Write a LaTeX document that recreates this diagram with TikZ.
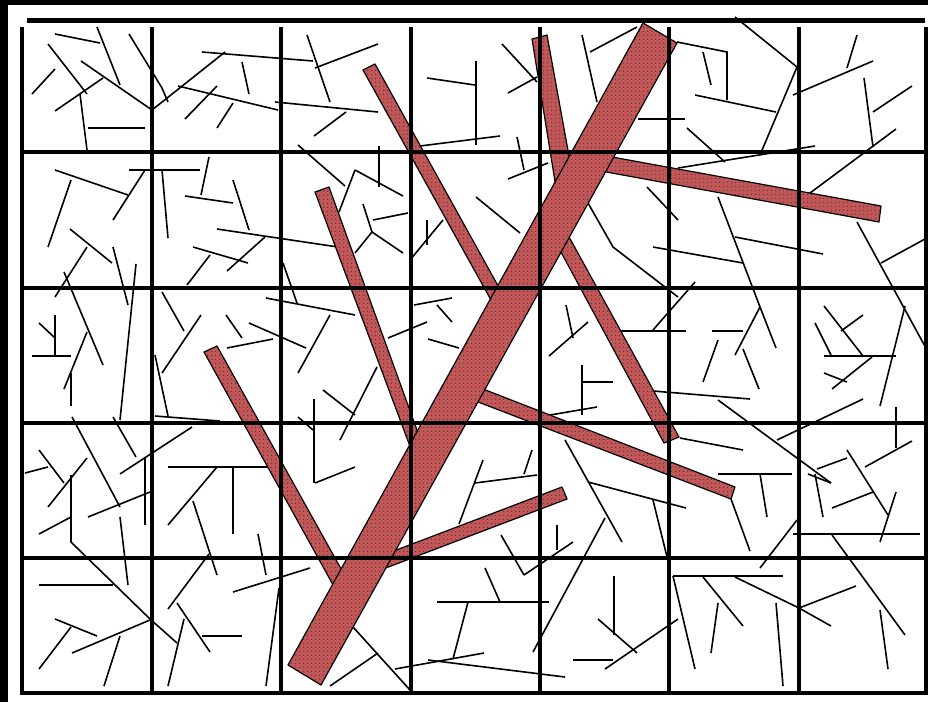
\documentclass[tikz,border=0pt]{standalone}
\usetikzlibrary{patterns.meta}
\definecolor{barkred}{RGB}{196,86,88}

\begin{document}
\begin{tikzpicture}[x=1pt,y=-1pt,
      twig/.style={line width=1.6pt},
      limb/.style={draw=black,line width=1.2pt,line join=round,fill=barkred,
        postaction={pattern={Dots[radius=0.85pt,distance=4pt]},pattern color=black!75}},
      gridline/.style={line width=4.5pt}]
      \useasboundingbox (0,0) rectangle (928,702);

      \foreach \xa/\ya/\xb/\yb in {55/34/100/43, 97/27/120/85, 48/44/87/94, 32/94/55/69,
            81/61/152/110, 152/110/225/52, 55/111/103/78, 80/94/87/150, 88/128/145/128,
            202/52/313/61, 242/62/249/94, 178/86/278/110, 275/102/378/112, 185/119/217/86,
            217/128/233/103, 129/170/200/170, 55/170/128/195, 145/170/113/220, 71/180/48/247,
            162/170/168/238, 209/157/201/195, 185/196/233/203, 233/180/249/230, 217/229/338/247,
            70/229/112/263, 298/145/345/186, 307/35/330/102, 315/68/378/44, 314/136/346/112,
            379/146/379/187, 355/170/403/196, 355/170/339/212, 363/204/372/232, 372/232/355/253,
            372/232/403/253, 373/220/408/213, 427/78/475/85, 476/61/476/145, 420/146/500/136,
            502/44/537/82, 508/93/537/77, 517/137/524/170, 508/179/548/163, 476/197/520/233,
            427/220/427/245, 410/260/443/220, 582/35/597/102, 590/52/637/27, 638/119/685/119,
            687/128/725/162, 647/187/678/220, 703/52/711/85, 695/95/776/112, 735/17/797/67,
            797/67/760/155, 793/95/873/61, 847/68/857/35, 864/78/873/147, 873/112/912/86,
            896/129/810/193, 678/168/815/146, 760/307/735/355, 857/222/927/350, 881/263/925/239,
            653/247/743/263, 735/237/823/254, 695/282/653/330, 620/331/686/331, 712/331/743/331,
            718/340/703/382, 743/349/759/389, 653/391/750/399, 718/400/831/483, 680/438/743/450,
            824/306/863/356, 841/331/863/315, 815/323/831/355, 824/356/896/356, 872/357/832/389,
            824/373/847/382, 905/306/880/406, 863/399/777/440, 896/407/896/448, 912/441/865/467,
            847/450/888/515, 817/469/847/458, 588/482/686/508, 653/500/667/557, 565/440/622/542,
            718/474/792/474, 760/474/767/517, 731/499/750/551, 797/520/760/568, 808/474/831/483,
            815/474/823/517, 832/508/873/492, 896/492/880/542, 793/534/920/534, 832/535/905/635,
            673/576/783/576, 673/576/695/669, 703/577/743/626, 718/603/711/653, 799/608/856/586,
            776/603/783/686, 880/610/888/669, 614/576/614/635, 598/619/637/653, 605/669/678/619,
            573/660/613/660, 314/399/314/483, 315/483/355/467, 395/669/484/653, 428/660/565/677,
            437/602/549/602, 468/602/453/659, 485/568/500/602, 459/524/483/460, 475/483/537/475,
            532/450/524/474, 501/535/524/575, 524/575/573/542, 557/525/557/550, 533/652/605/518,
            330/686/378/653, 353/627/410/690, 25/473/48/467, 39/450/64/483, 87/458/48/507,
            39/534/71/517, 88/517/150/492, 72/417/120/507, 120/474/192/427, 145/457/145/525,
            120/517/128/585, 39/585/113/585, 55/619/97/636, 71/627/39/669, 72/653/150/620,
            120/636/104/686, 168/467/267/467, 217/467/168/525, 233/467/233/534, 193/501/217/575,
            258/534/266/575, 209/554/168/609, 177/603/210/652, 202/636/242/636, 184/619/168/686,
            233/592/310/568, 279/588/266/686, 87/247/55/297, 113/247/128/305, 136/264/120/420,
            64/272/103/365, 39/323/55/338, 55/315/55/356, 32/356/71/356, 87/332/64/389,
            71/373/71/406, 193/247/248/263, 210/255/187/285, 265/237/227/271, 283/263/297/303,
            266/298/355/315, 162/292/184/331, 201/315/162/373, 226/315/242/338, 227/348/273/339,
            249/323/306/348, 330/315/298/373, 155/355/168/416, 155/416/220/421, 113/417/136/457,
            298/417/313/430, 414/305/452/298, 437/305/452/322, 388/338/427/322, 428/339/459/348,
            323/390/355/415, 377/367/340/440, 566/305/573/338, 549/356/588/322, 582/365/582/415,
            582/382/613/382, 550/415/597/407}
        \draw[twig] (\xa,\ya) -- (\xb,\yb);
      \draw[twig] (129,34) -- (162,88) -- (168,102);
      \draw[twig] (677,42) -- (727,52) -- (727,100);
      \draw[twig] (718,197) -- (760,307) -- (776,348);
      \draw[twig] (735,577) -- (799,608) -- (831,626);
      \draw[twig] (71,475) -- (71,542) -- (150,619) -- (177,643);
      \draw[twig] (588,203) -- (613,247) -- (678,297);

      \draw[limb] (363,70) -- (375,64) -- (502,293) -- (491,300) -- cycle;
      \draw[limb] (532,39) -- (547,35) -- (577,200) -- (558,200) -- cycle;
      \draw[limb] (541,215) -- (557,215) -- (679,437) -- (664,443) -- cycle;
      \draw[limb] (590,153) -- (881,206) -- (879,222) -- (590,169) -- cycle;
      \draw[limb] (465,382) -- (735,487) -- (731,499) -- (465,397) -- cycle;
      \draw[limb] (370,560) -- (562,487) -- (567,499) -- (370,574) -- cycle;
      \draw[limb] (204,352) -- (217,346) -- (350,585) -- (337,592) -- cycle;
      \draw[limb] (315,192) -- (329,187) -- (426,455) -- (411,449) -- cycle;
      \draw[limb] (288,665) -- (643,23) -- (677,43) -- (321,685) -- cycle;

      \foreach \gx in {22,152,281,411,540,669,799,926.5}
        \draw[gridline] (\gx,27) -- (\gx,695);
      \foreach \gy in {152,288,423,558,693}
        \draw[gridline] (20,\gy) -- (928,\gy);
      \draw[line width=5pt] (27,20.5) -- (925,20.5);
      \fill (0,0) rectangle (928,4.5);
      \fill (0,0) rectangle (8,702);
    \end{tikzpicture}
\end{document}
